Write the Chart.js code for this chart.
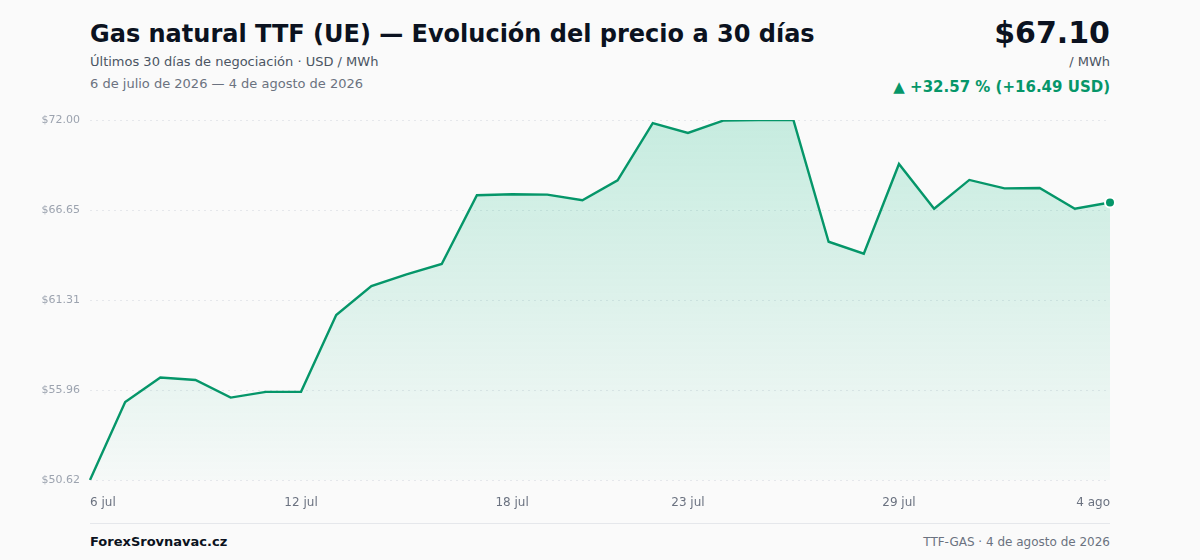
<!DOCTYPE html>
<html lang="es">
<head>
<meta charset="utf-8">
<title>Gas natural TTF (UE)</title>
<script src="https://cdn.jsdelivr.net/npm/chart.js@4.4.1/dist/chart.umd.min.js"></script>
<style>
  html, body { margin: 0; padding: 0; }
  body {
    width: 1200px; height: 560px; position: relative; overflow: hidden;
    background: #fafafa; font-family: "DejaVu Sans", sans-serif; color: #0f172a;
  }
  .abs { position: absolute; white-space: nowrap; }
  #title { left: 90px; top: 20px; font-size: 24px; font-weight: bold; color: #0b1220; }
  #sub { left: 90px; top: 54px; font-size: 13px; color: #4b5563; }
  #range { left: 90px; top: 76px; font-size: 13px; color: #6b7280; }
  #price { right: 90px; top: 15px; font-size: 30px; font-weight: bold; color: #0b1220; }
  #unit { right: 90px; top: 54px; font-size: 13px; color: #4b5563; }
  #change { right: 90px; top: 78px; font-size: 15px; font-weight: bold; color: #059669; }
  #wrap { position: absolute; left: 0; top: 100px; width: 1200px; height: 420px; }
  #foot { left: 90px; top: 523px; width: 1020px; border-top: 1px solid #e5e7eb; }
  #brand { left: 90px; top: 534px; font-size: 13px; font-weight: bold; color: #0b1220; }
  #src { right: 90px; top: 535px; font-size: 12px; color: #6b7280; }
</style>
</head>
<body>
<div class="abs" id="title">Gas natural TTF (UE) — Evolución del precio a 30 días</div>
<div class="abs" id="sub">Últimos 30 días de negociación · USD / MWh</div>
<div class="abs" id="range">6 de julio de 2026 — 4 de agosto de 2026</div>
<div class="abs" id="price">$67.10</div>
<div class="abs" id="unit">/ MWh</div>
<div class="abs" id="change">▲ +32.57 % (+16.49 USD)</div>
<div id="wrap"><canvas id="chart"></canvas></div>
<div class="abs" id="foot"></div>
<div class="abs" id="brand">ForexSrovnavac.cz</div>
<div class="abs" id="src">TTF-GAS · 4 de agosto de 2026</div>

<script>
// 30 trading days, 6 jul – 4 ago 2026
const days = [
  "6 jul", "7 jul", "8 jul", "9 jul", "10 jul", "11 jul", "12 jul", "13 jul",
  "14 jul", "15 jul", "16 jul", "17 jul", "18 jul", "19 jul", "20 jul", "21 jul",
  "22 jul", "23 jul", "24 jul", "25 jul", "26 jul", "27 jul", "28 jul", "29 jul",
  "30 jul", "31 jul", "1 ago", "2 ago", "3 ago", "4 ago",
];
const prices = [
  50.617, 55.25, 56.70, 56.56, 55.51, 55.85, 55.86, 60.42, 62.14, 62.83,
  63.45, 67.53, 67.59, 67.57, 67.23, 68.42, 71.82, 71.23, 71.96, 72.00,
  71.99, 64.77, 64.06, 69.39, 66.73, 68.44, 67.94, 67.96, 66.73, 67.10,
];
const tickIdx = [0, 6, 12, 17, 23, 29];
const yMin = 50.617;
const yMax = 72.0;

const GREEN = "#059669";

const lastIdx = prices.length - 1;

function fillGradient(ctx) {
  const area = ctx.chart.chartArea;
  if (!area) return "rgba(16,185,129,0.12)";
  const g = ctx.chart.ctx.createLinearGradient(0, area.top, 0, area.bottom);
  g.addColorStop(0, "rgba(16,185,129,0.22)");
  g.addColorStop(1, "rgba(16,185,129,0.02)");
  return g;
}

new Chart(document.getElementById("chart"), {
  type: "line",
  data: {
    labels: days,
    datasets: [
      {
        data: prices,
        borderColor: GREEN,
        borderWidth: 2.4,
        fill: true,
        backgroundColor: fillGradient,
        tension: 0,
        pointRadius: prices.map((_, i) => (i === lastIdx ? 5 : 0)),
        pointBackgroundColor: GREEN,
        pointBorderColor: "#ffffff",
        pointBorderWidth: 2,
        pointHoverRadius: 0,
      },
    ],
  },
  options: {
    responsive: true,
    maintainAspectRatio: false,
    animation: false,
    layout: { padding: { top: 20, right: 90, left: 0, bottom: 0 } },
    plugins: { legend: { display: false }, tooltip: { enabled: false } },
    scales: {
      x: {
        grid: { display: false },
        border: { display: false },
        afterFit: (s) => { s.height = 40; },
        afterBuildTicks: (s) => {
          s.ticks = tickIdx.map((i) => ({ value: i }));
        },
        ticks: {
          autoSkip: false,
          maxRotation: 0,
          align: "inner",
          padding: 8,
          color: "#6b7280",
          font: { family: "DejaVu Sans", size: 12 },
        },
      },
      y: {
        min: yMin,
        max: yMax,
        afterFit: (s) => { s.width = 90; },
        grid: { color: "#e5e7eb", drawTicks: false },
        border: { display: false, dash: [2, 4] },
        ticks: {
          count: 5,
          padding: 10,
          color: "#9ca3af",
          font: { family: "DejaVu Sans", size: 11 },
          callback: (v) => "$" + Number(v).toFixed(2),
        },
      },
    },
  },
});
</script>
</body>
</html>
